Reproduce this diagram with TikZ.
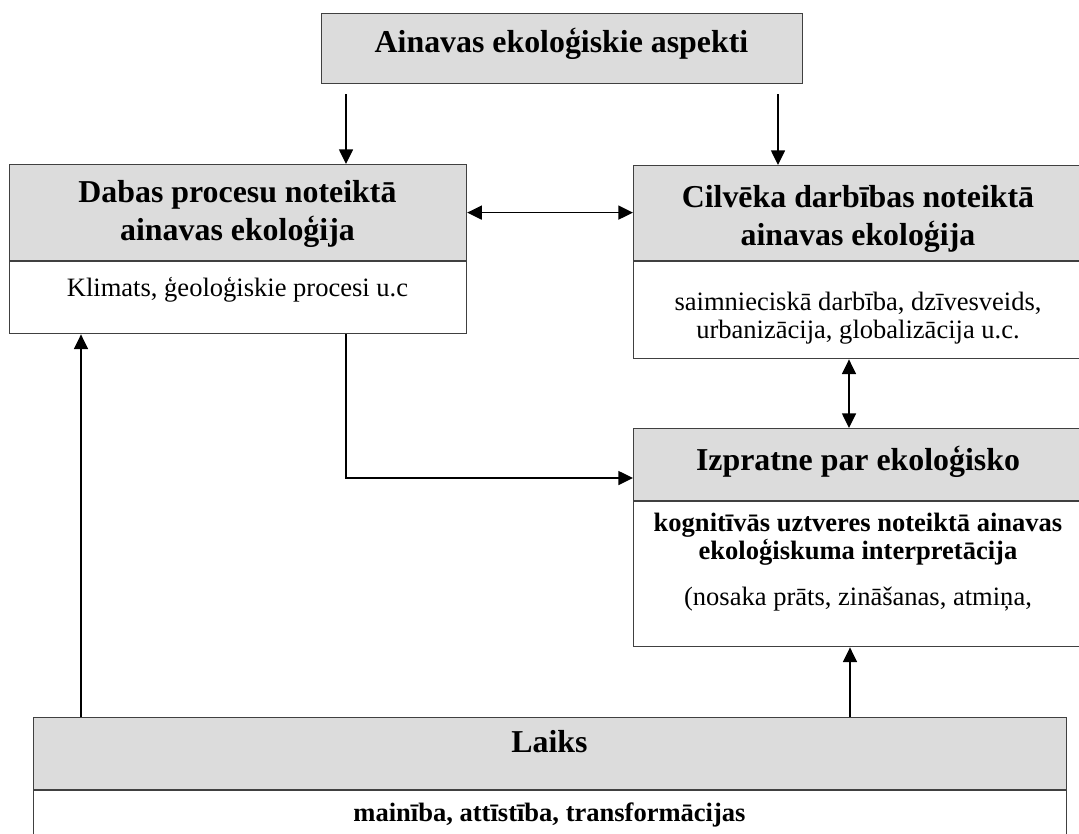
\documentclass[tikz,border=0pt]{standalone}
\usepackage{fontspec}
\setmainfont{Liberation Serif}
\usetikzlibrary{arrows.meta}
\definecolor{hdrgray}{RGB}{220,220,220}
\def\px{0.75pt}
\tikzset{
  hdr/.style={draw=black!75, fill=hdrgray, line width=0.9pt, inner sep=0pt, anchor=north west},
  bdy/.style={draw=black!75, fill=white, line width=0.9pt, inner sep=0pt, anchor=north west},
  htxt/.style={font=\bfseries\fontsize{23.9}{28.5}\selectfont, align=center, inner sep=0pt},
  btxt/.style={font=\fontsize{19.9}{21}\selectfont, align=center, inner sep=0pt},
  arr/.style={-{Triangle[length=11pt,width=10.5pt]}, line width=1.1pt},
  arrs/.style={{Triangle[length=11pt,width=10.5pt]}-{Triangle[length=11pt,width=10.5pt]}, line width=1.1pt}
}
\begin{document}
\begin{tikzpicture}[x=\px, y=-\px]
  \useasboundingbox (0,0) rectangle (1079,833);
  \def\Xl{346}
  \def\Xr{778}
  \def\Xv{849}
  \def\Xa{81}
  \def\Xb{850}
  \def\Ye{478}

  % boxes
  \node[hdr, minimum width=481*\px, minimum height=70*\px] (top) at (321,13) {};
  \node[hdr, minimum width=457*\px, minimum height=96*\px] (dabasH) at (9,164) {};
  \node[bdy, minimum width=457*\px, minimum height=72*\px] (dabasB) at (dabasH.south west) {};
  \node[hdr, minimum width=450*\px, minimum height=95*\px] (cilvH) at (633,165) {};
  \node[bdy, minimum width=450*\px, minimum height=97*\px] (cilvB) at (cilvH.south west) {};
  \node[hdr, minimum width=450*\px, minimum height=72*\px] (izprH) at (633,428) {};
  \node[bdy, minimum width=450*\px, minimum height=145*\px] (izprB) at (izprH.south west) {};
  \node[hdr, minimum width=1033*\px, minimum height=72*\px] (laiksH) at (33,717) {};
  \node[bdy, minimum width=1033*\px, minimum height=70*\px] (laiksB) at (laiksH.south west) {};

  % labels
  \node[htxt] (topT) at (561.5,44) {Ainavas ekoloģiskie aspekti};
  \node[htxt] (dabasHT) at (237.5,214) {Dabas procesu noteiktā\\ ainavas ekoloģija};
  \node[btxt] (dabasBT) at (237.5,290) {Klimats, ģeoloģiskie procesi u.c};
  \node[htxt] (cilvHT) at (858,219) {Cilvēka darbības noteiktā\\ ainavas ekoloģija};
  \node[btxt] (cilvBT) at (858,318) {saimnieciskā darbība, dzīvesveids,\\ urbanizācija, globalizācija u.c.};
  \node[htxt] (izprHT) at (858,462) {Izpratne par ekoloģisko};
  \node[btxt] (izprBT) at (858,562) {\textbf{kognitīvās uztveres noteiktā ainavas}\\ \textbf{ekoloģiskuma interpretācija}\\[14pt] (nosaka prāts, zināšanas, atmiņa,};
  \node[htxt] (laiksHT) at (549.5,742) {Laiks};
  \node[btxt, font=\bfseries\fontsize{19.9}{21}\selectfont] (laiksBT) at (549.5,815) {mainība, attīstība, transformācijas};

  % arrows
  \coordinate (xl) at (\Xl,0);
  \coordinate (xr) at (\Xr,0);
  \coordinate (xv) at (\Xv,0);
  \coordinate (xa) at (\Xa,0);
  \coordinate (xb) at (\Xb,0);
  \coordinate (ye) at (0,\Ye);
  \draw[arr, shorten <=10*\px] (top.south -| xl) -- (dabasH.north -| xl);
  \draw[arr, shorten <=10*\px] (top.south -| xr) -- (cilvH.north -| xr);
  \draw[arrs] (dabasH.east) -- (dabasH.east -| cilvH.west);
  \draw[arrs] (cilvB.south -| xv) -- (izprH.north -| xv);
  \draw[arr] (dabasB.south -| xl) |- (izprH.west |- ye);
  \draw[arr] (laiksH.north -| xa) -- (dabasB.south -| xa);
  \draw[arr] (laiksH.north -| xb) -- (izprB.south -| xb);

\end{tikzpicture}
\end{document}
